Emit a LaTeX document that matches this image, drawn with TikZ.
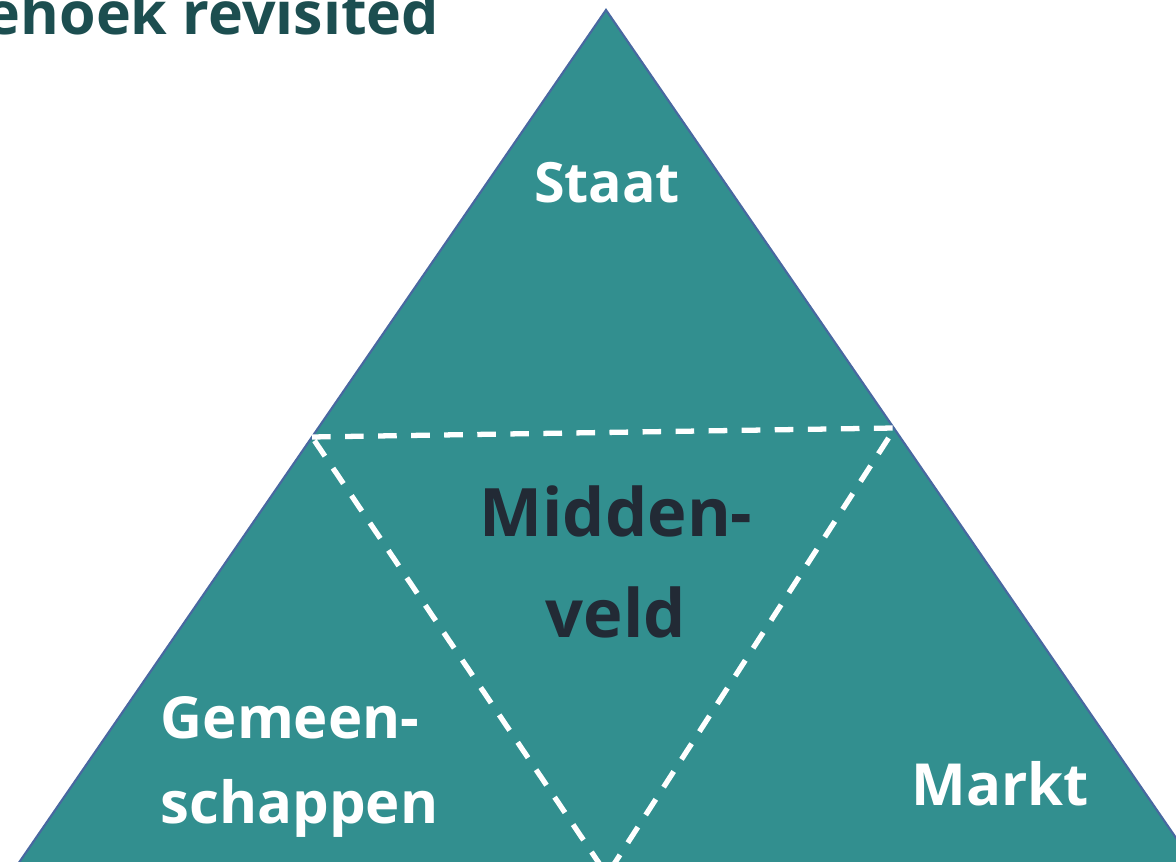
\documentclass[tikz,border=0pt]{standalone}
\usepackage{fontspec}
\setmainfont{Open Sans}
\usetikzlibrary{positioning}
\definecolor{teal}{RGB}{50,143,143}
\definecolor{rim}{RGB}{72,104,160}
\definecolor{titlegreen}{RGB}{28,78,80}
\definecolor{navy}{RGB}{34,42,53}
\begin{document}
\begin{tikzpicture}[
x=0.01cm,y=-0.01cm,
outer/.style={
    fill=teal,
    draw=rim,
    line width=0.6pt
    },
inner/.style={
    draw=white,
    line width=1.5pt,
    dash pattern=on 5.3pt off 4.1pt
    },
label/.style={
    text=white,
    font=\bfseries\fontsize{16.5}{24}\selectfont,
    inner sep=0
    }
]
\useasboundingbox (0,0) rectangle (1176,862);
\coordinate (top) at (606,10);
\coordinate (bl) at (7,880);
\coordinate (br) at (1205,880);
\coordinate (il) at (312,437);
\coordinate (ir) at (895,428);
\coordinate (ib) at (607,875);
\draw[outer] (top) -- (br) -- (bl) -- cycle;
\draw[inner] (il) -- (ir) -- (ib) -- cycle;
\node(title) [anchor=base east,text=titlegreen,inner sep=0,
  font=\bfseries\fontsize{16.8}{20}\selectfont] at (440,35) {ehoek revisited};
\node(staat) [label,anchor=base,font=\bfseries\fontsize{15.8}{24}\selectfont] at (607,203) {Staat};
\node(midden) [label,text=navy,align=center,font=\bfseries\fontsize{19}{28.5}\selectfont] at (616,562) {Midden-\\veld};
\node(gemeen) [label,align=left,anchor=west] at (160,767) {Gemeen-\\schappen};
\node(markt) [label,anchor=base] at (1000,806) {Markt};
\end{tikzpicture}
\end{document}
